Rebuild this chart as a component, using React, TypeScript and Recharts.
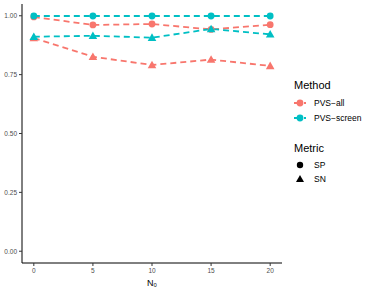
import { LineChart, Line, XAxis, YAxis } from 'recharts';

const n0 = [0, 5, 10, 15, 20];
const allSP = [0.995, 0.961, 0.965, 0.942, 0.962];
const allSN = [0.905, 0.826, 0.791, 0.814, 0.787];
const screenSP = [0.999, 0.999, 0.999, 0.999, 0.999];
const screenSN = [0.911, 0.915, 0.907, 0.944, 0.921];
const yTicks = [0, 0.25, 0.5, 0.75, 1];

const methods = [
  { name: 'PVS\u2212all', color: '#F8766D' },
  { name: 'PVS\u2212screen', color: '#00BFC4' },
];
const metrics = ['SP', 'SN'];

const data = n0.map((x, i) => ({
  x,
  allSP: allSP[i],
  allSN: allSN[i],
  screenSP: screenSP[i],
  screenSN: screenSN[i],
}));

const font = '"Liberation Sans", Arial, sans-serif';

function circleDot(color: string) {
  return (p: any) => <circle key={p.index} cx={p.cx} cy={p.cy} r={3.4} fill={color} />;
}

function triangleDot(color: string) {
  return (p: any) => {
    const s = 4.3;
    const pts = `${p.cx},${p.cy - s} ${p.cx - s},${p.cy + s * 0.75} ${p.cx + s},${p.cy + s * 0.75}`;
    return <polygon key={p.index} points={pts} fill={color} />;
  };
}

// legend drawn outside the chart so it doesn't eat plot width
function LegendBox() {
  return (
    <div style={{ position: 'absolute', left: 294, top: 79, fontFamily: font, color: '#000' }}>
      <div style={{ fontSize: 11, marginBottom: 4 }}>Method</div>
      {methods.map((m) => (
        <div key={m.name} style={{ display: 'flex', alignItems: 'center', height: 15, fontSize: 8.5 }}>
          <svg width={16} height={14}>
            <line x1={0} y1={7} x2={12} y2={7} stroke={m.color} strokeWidth={1.8} strokeDasharray="6 4" />
            <circle cx={6} cy={7} r={3.4} fill={m.color} />
          </svg>
          <span style={{ marginLeft: 4 }}>{m.name}</span>
        </div>
      ))}
      <div style={{ fontSize: 11, marginTop: 17, marginBottom: 4 }}>Metric</div>
      {metrics.map((m, i) => (
        <div key={m} style={{ display: 'flex', alignItems: 'center', height: 14, fontSize: 8.5 }}>
          <svg width={16} height={14}>
            {i === 0 ? (
              <circle cx={6} cy={7} r={3.2} fill="#000" />
            ) : (
              <polygon points="6,3 2,10 10,10" fill="#000" />
            )}
          </svg>
          <span style={{ marginLeft: 4 }}>{m}</span>
        </div>
      ))}
    </div>
  );
}

export default function App() {
  const tick = { fontSize: 6.5, fill: '#4D4D4D', fontFamily: font };
  return (
    <div style={{ position: 'absolute', left: 0, top: 0, width: 374, height: 290, background: '#fff' }}>
      <LineChart width={374} height={290} data={data} margin={{ top: 4, right: 92, bottom: 0, left: 0 }}>
        <XAxis
          dataKey="x"
          type="number"
          domain={[-1, 21]}
          ticks={n0}
          height={27}
          stroke="#000"
          tickLine={{ stroke: '#333' }}
          tickSize={3}
          tick={tick}
          label={{
            value: 'N\u2080',
            position: 'insideBottom',
            offset: 4,
            style: { fontSize: 9, fill: '#000', fontFamily: font },
          }}
        />
        <YAxis
          type="number"
          domain={[-0.05, 1.05]}
          ticks={yTicks}
          width={22}
          stroke="#000"
          tickLine={{ stroke: '#333' }}
          tickSize={3}
          tick={tick}
          tickFormatter={(v: number) => v.toFixed(2)}
          allowDataOverflow
        />
        <Line dataKey="allSN" stroke="#F8766D" strokeWidth={1.8} strokeDasharray="6 4" dot={triangleDot('#F8766D')} isAnimationActive={false} />
        <Line dataKey="allSP" stroke="#F8766D" strokeWidth={1.8} strokeDasharray="6 4" dot={circleDot('#F8766D')} isAnimationActive={false} />
        <Line dataKey="screenSN" stroke="#00BFC4" strokeWidth={1.8} strokeDasharray="6 4" dot={triangleDot('#00BFC4')} isAnimationActive={false} />
        <Line dataKey="screenSP" stroke="#00BFC4" strokeWidth={1.8} strokeDasharray="6 4" dot={circleDot('#00BFC4')} isAnimationActive={false} />
      </LineChart>
      <LegendBox />
    </div>
  );
}
